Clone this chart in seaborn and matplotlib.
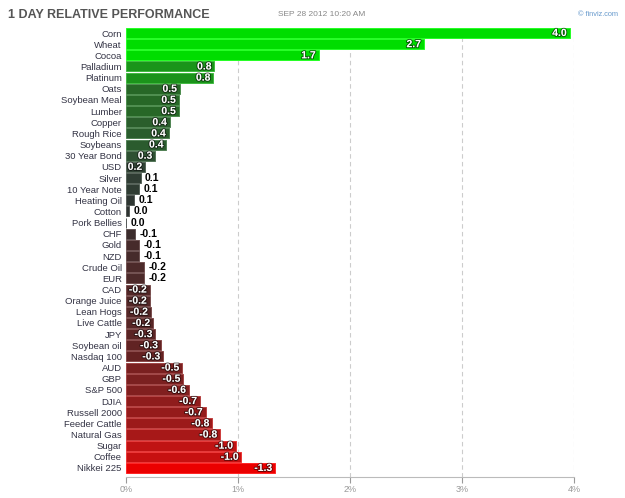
import numpy as np
import pandas as pd
import seaborn as sns
import matplotlib.pyplot as plt
import matplotlib.patheffects as pe
from matplotlib.colors import LinearSegmentedColormap, Normalize

names = ['Corn', 'Wheat', 'Cocoa', 'Palladium', 'Platinum', 'Oats', 'Soybean Meal',
         'Lumber', 'Copper', 'Rough Rice', 'Soybeans', '30 Year Bond', 'USD', 'Silver',
         '10 Year Note', 'Heating Oil', 'Cotton', 'Pork Bellies', 'CHF', 'Gold', 'NZD',
         'Crude Oil', 'EUR', 'CAD', 'Orange Juice', 'Lean Hogs', 'Live Cattle', 'JPY',
         'Soybean oil', 'Nasdaq 100', 'AUD', 'GBP', 'S&P 500', 'DJIA', 'Russell 2000',
         'Feeder Cattle', 'Natural Gas', 'Sugar', 'Coffee', 'Nikkei 225']
change = [3.96, 2.66, 1.72, 0.79, 0.78, 0.48, 0.47,
          0.47, 0.39, 0.38, 0.36, 0.26, 0.17, 0.13,
          0.12, 0.07, 0.03, 0.0, -0.08, -0.12, -0.12,
          -0.16, -0.16, -0.21, -0.21, -0.22, -0.24, -0.26,
          -0.31, -0.33, -0.50, -0.51, -0.56, -0.66, -0.71,
          -0.77, -0.84, -0.98, -1.03, -1.33]
ticks = [0, 1, 2, 3, 4]
tick_labels = ['0%', '1%', '2%', '3%', '4%']

df = pd.DataFrame({'name': names, 'change': change})
df['size'] = df['change'].abs()

# red -> dark -> green colour scale
anchors = [(-1.5, (240, 0, 0)), (-1.3, (234, 0, 0)), (-1.0, (195, 18, 18)),
           (-0.8, (160, 25, 25)), (-0.5, (122, 32, 32)), (-0.3, (95, 35, 35)),
           (-0.15, (75, 42, 42)), (0.0, (45, 48, 48)), (0.15, (48, 62, 52)),
           (0.3, (45, 85, 50)), (0.5, (38, 105, 38)), (0.8, (26, 150, 26)),
           (1.5, (0, 221, 0))]
norm = Normalize(-1.5, 1.5)
cmap = LinearSegmentedColormap.from_list(
    'perf', [(norm(v), tuple(c / 255 for c in rgb)) for v, rgb in anchors])
colors = [cmap(norm(max(-1.5, min(1.5, v)))) for v in change]

plt.rcParams['font.family'] = ['Liberation Sans', 'DejaVu Sans']
fig = plt.figure(figsize=(6.25, 4.98), dpi=100)
ax = fig.add_axes([126 / 625, 1 - 477 / 498, 448 / 625, 450 / 498])

sns.barplot(data=df, x='size', y='name', hue='name', palette=colors, legend=False,
            orient='h', width=0.9, saturation=1, ax=ax, zorder=3)
for patch, c in zip(ax.patches, colors):
    light = tuple(min(1, ch + 0.15) for ch in c[:3])
    patch.set_edgecolor(light)
    patch.set_linewidth(0.7)

px_per_unit = 448 / 4
for i, (v, s) in enumerate(zip(change, df['size'])):
    label = f'{v:.1f}'
    if s * px_per_unit >= 5 * len(label) + 3:
        ax.text(s - 0.025, i, label, ha='right', va='center', fontsize=7.5,
                fontweight='bold', color='white', zorder=4,
                path_effects=[pe.withStroke(linewidth=1.4, foreground=(0, 0, 0, 0.55))])
    else:
        ax.text(s + 0.04, i, label, ha='left', va='center', fontsize=7.5,
                fontweight='bold', color='black', zorder=4)

ax.set_xlim(0, 4)
ax.set_ylim(39.81, -0.54)
ax.set_xticks(ticks)
ax.set_xticklabels(tick_labels)
ax.tick_params(axis='x', colors='#999999', labelsize=6.5, length=4, width=0.8, pad=2)
ax.tick_params(axis='y', length=0, labelsize=6.8, labelcolor='#333344', pad=3)
for x in ticks[1:]:
    ax.axvline(x, color='#cccccc', linestyle=(0, (4, 3)), linewidth=0.8, zorder=1)
for side in ['top', 'right', 'left']:
    ax.spines[side].set_visible(False)
ax.spines['bottom'].set_color('#bbbbbb')
ax.set_xlabel('')
ax.set_ylabel('')

fig.text(8 / 625, 1 - 15 / 498, '1 DAY RELATIVE PERFORMANCE', fontsize=9,
         fontweight='bold', color='#555555', va='center')
fig.text(278 / 625, 1 - 14 / 498, 'SEP 28 2012 10:20 AM', fontsize=6,
         color='#888888', va='center')
fig.text(578 / 625, 1 - 14 / 498, '\u00a9 finviz.com', fontsize=5.3,
         color='#6699cc', va='center')

fig.savefig('out.png', dpi=100)
